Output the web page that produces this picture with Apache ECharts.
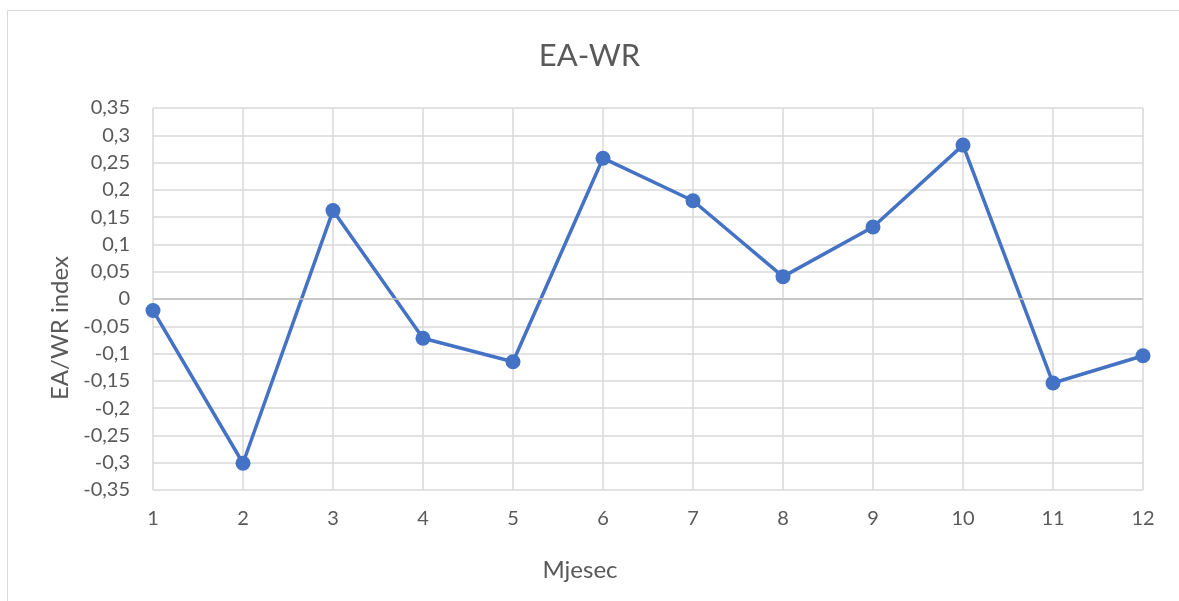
<!DOCTYPE html>
<html>
<head>
<meta charset="utf-8">
<style>
  html, body { margin: 0; padding: 0; background: #fff; }
  #chart { width: 1179px; height: 601px; }
</style>
<script src="https://cdn.jsdelivr.net/npm/echarts@6/dist/echarts.min.js"></script>
</head>
<body>
<div id="chart"></div>
<script>
const months = ['1', '2', '3', '4', '5', '6', '7', '8', '9', '10', '11', '12']
const eaWr = [-0.021, -0.301, 0.162, -0.072, -0.115, 0.258, 0.18, 0.041, 0.132, 0.282, -0.154, -0.104]

const textColor = '#595959'
const fontFamily = 'Lato, "Open Sans", sans-serif'

const chart = echarts.init(document.getElementById('chart'))
chart.setOption({
  animation: false,
  textStyle: { fontFamily: fontFamily },
  graphic: [{
    type: 'rect',
    shape: { x: 7.5, y: 10.5, width: 1300, height: 700 },
    style: { fill: 'none', stroke: '#d9d9d9', lineWidth: 1 }
  }],
  title: {
    text: 'EA-WR',
    left: 'center',
    top: 35,
    textStyle: { color: textColor, fontSize: 31, fontWeight: 'normal', fontFamily: fontFamily }
  },
  grid: { left: 153, right: 36, top: 108, bottom: 111 },
  xAxis: {
    type: 'category',
    data: months,
    boundaryGap: false,
    name: 'Mjesec',
    nameLocation: 'middle',
    nameGap: 68,
    nameTextStyle: { color: textColor, fontSize: 24, padding: [0, 136, 0, 0] },
    axisLine: { show: false },
    axisTick: { show: false },
    axisLabel: { color: textColor, fontSize: 20, margin: 19 },
    splitLine: { show: true, lineStyle: { color: '#d9d9d9', width: 1.5 } }
  },
  yAxis: {
    type: 'value',
    min: -0.35,
    max: 0.35,
    interval: 0.05,
    name: 'EA/WR index',
    nameLocation: 'middle',
    nameGap: 80,
    nameTextStyle: { color: textColor, fontSize: 24, padding: [0, 58, 0, 0] },
    axisLine: { show: false },
    axisTick: { show: false },
    axisLabel: {
      color: textColor,
      fontSize: 20,
      margin: 23,
      formatter: (v) => String(Number(v.toFixed(2))).replace('.', ',')
    },
    splitLine: { show: true, lineStyle: { color: '#d9d9d9', width: 1.5 } }
  },
  series: [{
    name: 'EA-WR',
    type: 'line',
    data: eaWr,
    symbol: 'circle',
    symbolSize: 15,
    lineStyle: { color: '#4472C4', width: 3.5 },
    itemStyle: { color: '#4472C4' },
    markLine: {
      silent: true,
      symbol: 'none',
      label: { show: false },
      lineStyle: { color: '#bfbfbf', type: 'solid', width: 1.5 },
      data: [{ yAxis: 0 }]
    },
    z: 3
  }]
})
</script>
</body>
</html>
